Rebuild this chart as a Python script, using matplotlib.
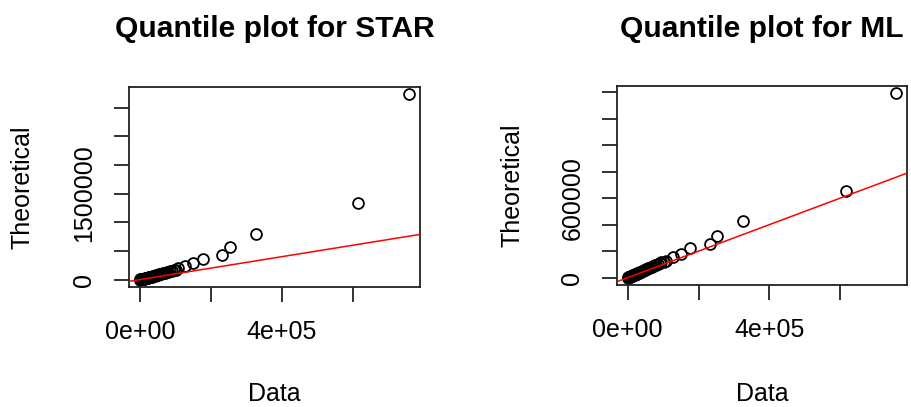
import numpy as np
import matplotlib.pyplot as plt

plt.rcParams['font.family'] = ['Liberation Sans', 'DejaVu Sans']

# sorted observed data (shared x for both panels)
data_x = [800, 2000, 3200, 4500, 5800, 7200, 8600, 10000, 11500, 13000,
          14600, 16200, 17800, 19500, 21300, 23100, 25000, 27000, 29000, 31200,
          33500, 35800, 38200, 40700, 43300, 46000, 48800, 51700, 54700, 57800,
          61000, 64500, 68000, 72000, 76000, 80500, 85000, 90000, 95000, 101000,
          108000, 128000, 150000, 177000, 232000, 253000, 326000, 615000, 758000]

# theoretical quantiles, STAR fit
star_q = [500, 1800, 3500, 5300, 7200, 9200, 11300, 13500, 15800, 18200,
          20700, 23300, 26000, 28800, 31800, 34900, 38100, 41500, 45000, 48700,
          52500, 56500, 60700, 65000, 69500, 74200, 79100, 84200, 89500, 95000,
          100800, 106900, 113300, 120000, 127200, 134800, 142800, 151300, 160500, 171000,
          194000, 238000, 282000, 353000, 432000, 574000, 794000, 1341000, 3230000]

# theoretical quantiles, ML fit
ml_q = [400, 1500, 2900, 4400, 5900, 7500, 9100, 10800, 12600, 14400,
        16300, 18300, 20300, 22400, 24600, 26900, 29300, 31800, 34300, 37000,
        39800, 42700, 45700, 48800, 52000, 55300, 58800, 62400, 66100, 70000,
        74000, 78200, 82600, 87300, 92200, 97400, 102800, 108600, 114700, 121500,
        129000, 152000, 182000, 220000, 251000, 311000, 425000, 653000, 1390000]

xticks = [0, 200000, 400000, 600000]
xticklabels = ['0e+00', '', '4e+05', '']
yticks_star = [0, 500000, 1000000, 1500000, 2000000, 2500000, 3000000]
yticklabels_star = ['0', '', '', '1500000', '', '', '']
yticks_ml = [0, 200000, 400000, 600000, 800000, 1000000, 1200000, 1400000]
yticklabels_ml = ['0', '', '', '600000', '', '', '', '']

fig = plt.figure(figsize=(9.12, 4.07), dpi=100)
ax1 = fig.add_axes([129/912, 120/407, 291/912, 200/407])
ax2 = fig.add_axes([617/912, 122/407, 290/912, 199/407])

panels = [(ax1, star_q, 'Quantile plot for STAR', yticks_star, yticklabels_star),
          (ax2, ml_q, 'Quantile plot for ML', yticks_ml, yticklabels_ml)]

for ax, q, title, yt, ytl in panels:
    ax.plot(data_x, q, 'o', mfc='none', mec='black', ms=7.8, mew=1.3)
    ax.margins(0.04)
    ax.axline((0, 0), slope=1, color='red', lw=1.1, zorder=3)
    ax.set_xticks(xticks)
    ax.set_xticklabels(xticklabels)
    ax.set_yticks(yt)
    ax.set_yticklabels(ytl, rotation=90, va='center')
    ax.tick_params(length=10.5, width=1.3, color='#222222', labelsize=18, pad=13)
    for s in ax.spines.values():
        s.set_linewidth(1.3)
        s.set_color('#222222')
    ax.set_xlabel('Data', fontsize=18)
    ax.xaxis.label.set_va('center')
    ax.set_ylabel('Theoretical', fontsize=18)
    ax.yaxis.label.set_va('center')
    ax.text(0.5, 0, title, transform=ax.transAxes, ha='center', va='baseline',
            fontsize=21.6, fontweight='bold')

ax1.xaxis.set_label_coords(0.5, -0.535)
ax2.xaxis.set_label_coords(0.5, -0.548)
ax1.yaxis.set_label_coords((23-129)/291, 0.5)
ax2.yaxis.set_label_coords((513-617)/290, 0.5)
# titles: baseline around pixel row 37
ax1.texts[0].set_position((0.5, (287-37)/200))
ax2.texts[0].set_position((0.5, (285-37)/199))

fig.savefig('out.png', dpi=100)
